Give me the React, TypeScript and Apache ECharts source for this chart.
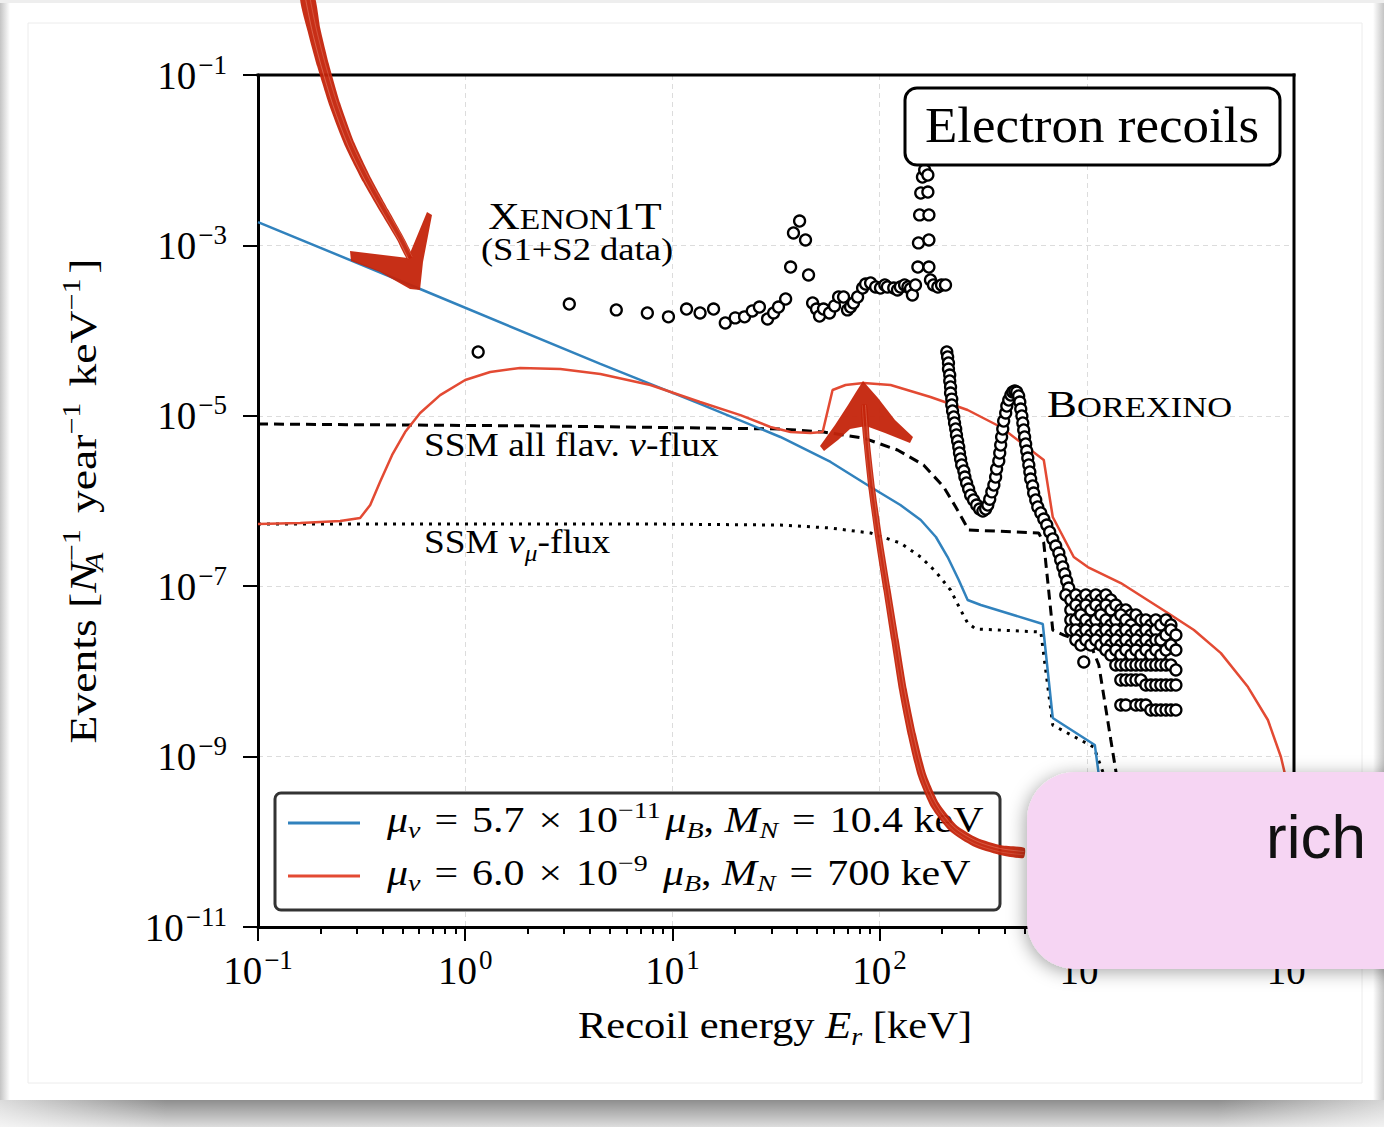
import React, { useEffect, useRef } from "react";
import * as echarts from "echarts";

const SERIF = '"Liberation Serif", "Times New Roman", serif';
const SANS = '"Liberation Sans", "Helvetica Neue", Arial, sans-serif';

// ---------- axis ticks ----------
const xMinorTicks = [
  0.2, 0.3, 0.4, 0.5, 0.6, 0.7, 0.8, 0.9,
  2, 3, 4, 5, 6, 7, 8, 9,
  20, 30, 40, 50, 60, 70, 80, 90,
  200, 300, 400, 500, 600, 700, 800, 900,
  2000, 3000, 4000, 5000, 6000, 7000, 8000, 9000,
];
const yMajorTicks = [1e-11, 1e-9, 1e-7, 1e-5, 1e-3, 1e-1];

// ---------- model curves [E keV, events] ----------
const blueCurve: [number, number][] = [
  [0.1, 1.88e-3], [0.606, 3.08e-4], [4.49, 4.06e-5], [13.6, 1.38e-5], [33.2, 5.64e-6],
  [58.0, 2.87e-6], [90.5, 1.46e-6], [126, 8.97e-7], [158, 5.98e-7], [187, 3.78e-7],
  [213, 2.2e-7], [241, 1.18e-7], [266, 6.89e-8], [308, 6.01e-8], [613, 3.6e-8],
  [685, 2.84e-9], [1093, 1.37e-9], [1169, 4.06e-10], [1277, 1e-11],
];
const redCurve: [number, number][] = [
  [0.1, 5.37e-7], [0.16, 5.52e-7], [0.249, 5.82e-7], [0.311, 6.32e-7], [0.348, 8.97e-7],
  [0.388, 1.67e-6], [0.444, 3.47e-6], [0.513, 6.45e-6], [0.606, 1.08e-5], [0.757, 1.75e-5],
  [1.0, 2.63e-5], [1.32, 3.27e-5], [1.84, 3.64e-5], [2.88, 3.54e-5], [4.49, 3.1e-5],
  [7.83, 2.3e-5], [13.6, 1.45e-5], [21.3, 1.02e-5], [29.7, 7.39e-6], [37.2, 6.45e-6],
  [46.4, 6.28e-6], [53.1, 6.45e-6], [59.3, 2.01e-5], [68.5, 2.3e-5], [83.7, 2.43e-5],
  [113, 2.3e-5], [176, 1.66e-5], [266, 1.17e-5], [384, 7.39e-6], [620, 3.03e-6],
  [685, 6.49e-7], [865, 2.2e-7], [1011, 1.68e-7], [1459, 1.09e-7], [2461, 4.85e-8],
  [3289, 3.06e-8], [4437, 1.64e-8], [5998, 6.55e-9], [7482, 2.69e-9], [8650, 9.9e-10],
  [9675, 3.1e-10], [10000, 1.5e-10],
];
const ssmAllFlavour: [number, number][] = [
  [0.1, 8.01e-6], [0.485, 7.8e-6], [2.57, 7.59e-6], [13.6, 7.19e-6], [33.2, 7.0e-6],
  [53.6, 6.45e-6], [83.7, 5.48e-6], [122, 3.97e-6], [163, 2.65e-6], [204, 1.46e-6],
  [233, 8.51e-7], [269, 4.57e-7], [586, 4.21e-7], [620, 3.21e-7], [685, 3.06e-8],
  [774, 2.67e-8], [1045, 2.04e-8], [1143, 1.19e-8], [1306, 1.57e-9], [1429, 4.06e-10],
  [1542, 6.2e-11], [1650, 1e-11],
];
const ssmMuFlux: [number, number][] = [
  [0.1, 5.37e-7], [0.846, 5.37e-7], [7.83, 5.37e-7], [33.2, 5.22e-7], [58.0, 4.82e-7],
  [90.5, 4.21e-7], [126, 3.21e-7], [158, 2.2e-7], [187, 1.47e-7], [220, 9.02e-8],
  [246, 5.26e-8], [266, 3.7e-8], [291, 3.15e-8], [600, 2.9e-8], [685, 2.34e-9],
  [1081, 1.29e-9], [1236, 5.3e-10], [1380, 1e-11],
];

// ---------- data points ----------
const xenon1T: [number, number][] = [
  [1.155, 5.61e-5], [3.18, 2.05e-4], [5.36, 1.75e-4], [7.57, 1.61e-4], [9.57, 1.45e-4],
  [11.7, 1.79e-4], [13.6, 1.61e-4], [15.8, 1.79e-4], [18.0, 1.23e-4], [20.1, 1.41e-4],
  [22.3, 1.45e-4], [24.3, 1.7e-4], [26.3, 1.89e-4], [28.8, 1.37e-4], [30.8, 1.61e-4],
  [32.5, 1.89e-4], [35.2, 2.35e-4], [37.2, 5.57e-4], [38.4, 1.4e-3], [41.1, 1.93e-3],
  [43.9, 1.16e-3], [45.4, 4.5e-4], [47.5, 2.11e-4], [49.6, 1.79e-4], [51.3, 1.48e-4],
  [53.6, 1.79e-4], [57.3, 1.61e-4], [60.6, 1.95e-4], [63.4, 2.48e-4], [67.0, 2.48e-4],
  [70.0, 1.75e-4], [72.4, 1.89e-4], [74.8, 2.11e-4], [78.3, 2.48e-4], [82.8, 3.16e-4],
  [85.6, 3.52e-4], [90.5, 3.62e-4], [95.7, 3.25e-4], [101, 3.16e-4], [106, 3.43e-4],
  [109, 3.25e-4], [117, 3.16e-4], [122, 3.0e-4], [126, 3.25e-4], [132, 3.43e-4],
  [137, 3.25e-4], [141, 3.1e-4], [144, 2.62e-4], [149, 3.43e-4], [153, 5.57e-4],
  [154, 1.07e-3], [156, 2.28e-3], [158, 4.12e-3], [161, 6.35e-3], [165, 7.67e-3],
  [171, 6.7e-3], [171, 4.23e-3], [173, 2.28e-3], [173, 1.16e-3], [173, 5.57e-4],
  [176, 3.93e-4], [182, 3.43e-4], [191, 3.25e-4], [199, 3.43e-4], [208, 3.43e-4],
];
const borexinoPeak: [number, number][] = [
  [211, 5.61e-5], [213, 4.9e-5], [215, 4.17e-5], [215, 3.54e-5], [218, 3.01e-5],
  [218, 2.56e-5], [220, 2.18e-5], [220, 1.85e-5], [223, 1.57e-5], [223, 1.34e-5],
  [225, 1.14e-5], [228, 9.68e-6], [230, 8.23e-6], [233, 7.0e-6], [235, 5.95e-6],
  [238, 5.06e-6], [241, 4.3e-6], [243, 3.66e-6], [246, 3.11e-6], [249, 2.65e-6],
  [255, 2.25e-6], [258, 1.91e-6], [263, 1.63e-6], [269, 1.38e-6], [275, 1.17e-6],
  [284, 1.03e-6], [294, 8.97e-7], [304, 8.05e-7], [315, 7.63e-7], [325, 8.05e-7],
  [333, 8.97e-7], [340, 1.05e-6], [348, 1.28e-6], [356, 1.54e-6], [363, 1.91e-6],
  [367, 2.38e-6], [376, 2.95e-6], [380, 3.66e-6], [384, 4.54e-6], [388, 5.64e-6],
  [393, 7.0e-6], [397, 8.69e-6], [406, 1.08e-5], [411, 1.3e-5], [420, 1.53e-5],
  [430, 1.75e-5], [439, 1.9e-5], [449, 1.95e-5], [459, 1.9e-5], [469, 1.71e-5],
  [475, 1.45e-5], [480, 1.2e-5], [486, 9.95e-6], [491, 8.23e-6], [496, 6.81e-6],
  [501, 5.64e-6], [507, 4.67e-6], [513, 3.86e-6], [519, 3.19e-6], [525, 2.65e-6],
  [531, 2.19e-6], [536, 1.81e-6], [548, 1.5e-6], [554, 1.24e-6], [567, 1.03e-6],
  [580, 8.51e-7], [600, 7.23e-7], [620, 6.14e-7], [641, 5.22e-7], [662, 4.33e-7],
  [685, 3.58e-7], [708, 2.96e-7], [733, 2.45e-7], [748, 2.03e-7], [766, 1.68e-7],
  [783, 1.39e-7], [800, 1.15e-7], [818, 9.51e-8],
];
const borexinoTail: [number, number][] = [
  [792, 7.88e-8], [837, 6.89e-8], [885, 7.88e-8], [936, 6.89e-8], [989, 7.88e-8],
  [1045, 6.89e-8], [1105, 7.88e-8], [1169, 6.89e-8], [1236, 7.88e-8], [1306, 6.89e-8],
  [837, 5.26e-8], [885, 6.01e-8], [936, 5.26e-8], [989, 6.01e-8], [1045, 5.26e-8],
  [1105, 6.01e-8], [1169, 5.26e-8], [1236, 6.01e-8], [1306, 5.26e-8], [1380, 6.01e-8],
  [1459, 5.26e-8], [1542, 5.26e-8], [1633, 4.59e-8],
  [837, 4.01e-8], [885, 4.01e-8], [936, 4.59e-8], [989, 4.01e-8], [1045, 3.51e-8],
  [1105, 4.01e-8], [1169, 4.59e-8], [1236, 4.01e-8], [1306, 3.51e-8], [1380, 4.01e-8],
  [1459, 4.59e-8], [1542, 4.01e-8], [1633, 3.51e-8], [1726, 4.59e-8], [1824, 4.01e-8],
  [1928, 4.01e-8], [2037, 3.51e-8], [2153, 4.01e-8],
  [837, 3.06e-8], [885, 3.06e-8], [936, 2.67e-8], [989, 3.06e-8], [1045, 2.67e-8],
  [1105, 3.06e-8], [1169, 2.67e-8], [1236, 3.06e-8], [1306, 2.67e-8], [1380, 3.06e-8],
  [1459, 2.67e-8], [1542, 3.06e-8], [1633, 2.67e-8], [1726, 3.06e-8], [1824, 2.67e-8],
  [1928, 3.06e-8], [2037, 2.67e-8], [2153, 3.06e-8], [2276, 3.51e-8], [2410, 4.01e-8],
  [2547, 3.51e-8],
  [885, 2.34e-8], [936, 2.04e-8], [989, 2.34e-8], [1045, 2.04e-8], [1105, 2.34e-8],
  [1169, 2.04e-8], [1236, 2.34e-8], [1306, 2.04e-8], [1380, 2.34e-8], [1459, 2.04e-8],
  [1542, 2.34e-8], [1633, 2.04e-8], [1726, 2.34e-8], [1824, 2.04e-8], [1928, 2.34e-8],
  [2037, 2.04e-8], [2153, 2.34e-8], [2276, 2.34e-8], [2410, 2.67e-8], [2547, 3.06e-8],
  [2692, 2.67e-8],
  [1236, 1.78e-8], [1306, 1.56e-8], [1380, 1.78e-8], [1459, 1.56e-8], [1542, 1.78e-8],
  [1633, 1.56e-8], [1726, 1.78e-8], [1824, 1.56e-8], [1928, 1.78e-8], [2037, 1.56e-8],
  [2153, 1.78e-8], [2276, 1.56e-8], [2410, 1.78e-8], [2547, 2.04e-8], [2692, 1.78e-8],
  [1380, 1.19e-8], [1459, 1.19e-8], [1542, 1.19e-8], [1633, 1.19e-8], [1726, 1.19e-8],
  [1824, 1.19e-8], [1928, 1.19e-8], [2037, 1.19e-8], [2153, 1.19e-8], [2276, 1.19e-8],
  [2410, 1.19e-8], [2547, 1.19e-8], [2692, 1.04e-8],
  [1459, 7.93e-9], [1542, 7.93e-9], [1633, 7.93e-9], [1726, 7.93e-9], [1824, 7.93e-9],
  [1928, 6.92e-9], [2037, 6.92e-9], [2153, 6.92e-9], [2276, 6.92e-9], [2410, 6.92e-9],
  [2547, 6.92e-9], [2692, 6.92e-9],
  [1459, 4.03e-9], [1542, 4.03e-9], [1726, 4.03e-9], [1824, 4.03e-9], [1928, 4.03e-9],
  [2037, 3.52e-9], [2153, 3.52e-9], [2276, 3.52e-9], [2410, 3.52e-9], [2547, 3.52e-9],
  [2692, 3.52e-9],
  [967, 1.29e-8],
];

// ---------- drawing helpers (geometry only) ----------
function taper(pts: number[][], w0: number, w1: number): number[][] {
  const left: number[][] = [];
  const right: number[][] = [];
  const n = pts.length;
  for (let i = 0; i < n; i++) {
    const a = pts[Math.max(0, i - 1)];
    const b = pts[Math.min(n - 1, i + 1)];
    let dx = b[0] - a[0];
    let dy = b[1] - a[1];
    const L = Math.hypot(dx, dy) || 1;
    dx /= L; dy /= L;
    const w = w0 + ((w1 - w0) * i) / (n - 1);
    left.push([pts[i][0] - dy * w, pts[i][1] + dx * w]);
    right.push([pts[i][0] + dy * w, pts[i][1] - dx * w]);
  }
  return left.concat(right.reverse());
}
function offsetLine(pts: number[][], off: number): number[][] {
  const n = pts.length;
  return pts.map((p, i) => {
    const a = pts[Math.max(0, i - 1)];
    const b = pts[Math.min(n - 1, i + 1)];
    let dx = b[0] - a[0];
    let dy = b[1] - a[1];
    const L = Math.hypot(dx, dy) || 1;
    dx /= L; dy /= L;
    return [p[0] - dy * off, p[1] + dx * off];
  });
}

const rs = (size: number, extra: any = {}) => ({ fontFamily: SERIF, fontSize: size, fill: "#000", ...extra });

function mathRich(base: number, small: number, lh: number, eqPad: number) {
  return {
    r: rs(base, { lineHeight: lh }),
    i: rs(base, { lineHeight: lh, fontStyle: "italic" }),
    eq: rs(base, { lineHeight: lh, padding: [0, eqPad, 0, eqPad] }),
    sb: rs(small, { lineHeight: small, verticalAlign: "bottom", fontStyle: "italic" }),
    sbz: rs(small, { lineHeight: small, verticalAlign: "bottom", fontStyle: "italic", width: 1 }),
    sp: rs(small, { lineHeight: small, verticalAlign: "top", padding: [0, 4, 0, 0] }),
  };
}

function txt(x: number, y: number, text: string, rich: any, opts: any = {}) {
  return {
    type: "text",
    x,
    y,
    z: opts.z ?? 12,
    scaleX: opts.scaleX ?? 1,
    rotation: opts.rotation ?? 0,
    silent: true,
    style: {
      text,
      rich,
      fill: "#000",
      align: opts.align ?? "left",
      textAlign: opts.align ?? "left",
      verticalAlign: "middle",
      textVerticalAlign: "middle",
    },
  };
}

function supLabel(v: number) {
  const e = Math.round(Math.log10(v));
  return `{b|10}{s|${e < 0 ? "\u2212" : ""}${Math.abs(e)}}`;
}

const tickRich = {
  b: { fontFamily: SERIF, fontSize: 39, lineHeight: 48, color: "#000" },
  s: { fontFamily: SERIF, fontSize: 27, lineHeight: 22, verticalAlign: "top", color: "#000", padding: [0, 0, 0, 2] },
};

const smallCaps = {
  a: rs(39, { lineHeight: 46 }),
  b: rs(30, { lineHeight: 46, padding: [6, 0, 0, 0] }),
};

function buildOption() {
  const RED_INK = "#c4240b";
  const a1 = [[307, -4], [314, 30], [323, 65], [335, 105], [350, 145], [367, 180], [385, 212], [400, 238], [410, 258]];
  const a2 = [[1024, 853], [1000, 850], [975, 842], [953, 828], [935, 805], [922, 775], [912, 735], [903, 690], [895, 640], [887, 590], [879, 540], [872, 490], [867, 445], [864, 405]];
  const arrow1Shaft = taper(a1, 7, 3);
  const arrow1Head = [[350, 251], [408, 258], [427, 212], [432, 215], [423, 262], [420, 290], [410, 289], [380, 272], [351, 261]];
  const arrow2Shaft = taper(a2, 5, 3);
  const arrow2Head = [[863, 381], [878, 398], [895, 420], [913, 437], [910, 443], [885, 433], [866, 426], [850, 429], [838, 440], [824, 451], [820, 446], [835, 425], [848, 405], [856, 392]];
  const streak = (pts: number[][], off: number, op: number) => ({
    type: "polyline", z: 21, silent: true, shape: { points: offsetLine(pts, off), smooth: 0.3 },
    style: { stroke: `rgba(255,190,170,${op})`, lineWidth: 1, fill: "none" },
  });

  const legendRich = mathRich(36, 24, 44, 12);
  const annRich = mathRich(34, 23, 44, 8);
  const nameRich = mathRich(38, 25, 48, 8);

  const graphic: any[] = [
    // page / card frame
    { type: "rect", z: -30, silent: true, shape: { x: 0, y: 0, width: 1384, height: 1127 }, style: { fill: "#fff" } },
    {
      type: "rect", z: -29, silent: true, shape: { x: 0, y: 0, width: 10, height: 1105 },
      style: { fill: new echarts.graphic.LinearGradient(0, 0, 1, 0, [{ offset: 0, color: "#c4c4c4" }, { offset: 1, color: "#ffffff" }]) },
    },
    {
      type: "rect", z: -29, silent: true, shape: { x: 1373, y: 0, width: 11, height: 1105 },
      style: { fill: new echarts.graphic.LinearGradient(0, 0, 1, 0, [{ offset: 0, color: "#ffffff" }, { offset: 1, color: "#c4c4c4" }]) },
    },
    { type: "rect", z: -29, silent: true, shape: { x: 0, y: 0, width: 1384, height: 3 }, style: { fill: "#eeeeee" } },
    {
      type: "rect", z: -29, silent: true, shape: { x: 0, y: 1100, width: 1384, height: 27 },
      style: {
        fill: new echarts.graphic.LinearGradient(0, 0, 1, 0, [
          { offset: 0, color: "#dcdcdc" }, { offset: 0.12, color: "#8e8e8e" },
          { offset: 0.88, color: "#8e8e8e" }, { offset: 1, color: "#d4d4d4" },
        ]),
      },
    },
    {
      type: "rect", z: -28, silent: true, shape: { x: 0, y: 1100, width: 1384, height: 27 },
      style: {
        fill: new echarts.graphic.LinearGradient(0, 0, 0, 1, [
          { offset: 0, color: "rgba(255,255,255,0)" }, { offset: 1, color: "rgba(255,255,255,0.7)" },
        ]),
      },
    },
    {
      type: "rect", z: -27, silent: true, shape: { x: 28, y: 23, width: 1334, height: 1060 },
      style: { fill: "none", stroke: "#ececec", lineWidth: 1 },
    },

    // top and right frame of the axes box
    { type: "line", z: 15, silent: true, shape: { x1: 256.5, y1: 75, x2: 1295.5, y2: 75 }, style: { stroke: "#000", lineWidth: 3 } },
    { type: "line", z: 15, silent: true, shape: { x1: 1294, y1: 73.5, x2: 1294, y2: 928.5 }, style: { stroke: "#000", lineWidth: 3 } },

    // "Electron recoils" box
    {
      type: "rect", z: 12, silent: true, shape: { x: 905, y: 88, width: 375, height: 77, r: 12 },
      style: { fill: "#fff", stroke: "#000", lineWidth: 3 },
    },
    txt(1092, 125, "{r|Electron recoils}", { r: rs(50, { lineHeight: 56 }) }, { align: "center", scaleX: 1.06 }),

    // annotations
    txt(575, 216, "{a|X}{b|ENON}{a|1T}", smallCaps, { align: "center", scaleX: 1.12 }),
    txt(577, 249, "{r|(S1+S2 data)}", { r: rs(31, { lineHeight: 36 }) }, { align: "center", scaleX: 1.18 }),
    txt(1047, 404, "{a|B}{b|OREXINO}", smallCaps, { scaleX: 1.15 }),
    txt(424, 445, "{r|SSM all flav. }{i|ν}{r|-flux}", annRich, { scaleX: 1.1 }),
    txt(424, 542, "{r|SSM }{i|ν}{sb|μ}{r|-flux}", annRich, { scaleX: 1.1 }),

    // axis titles
    txt(775, 1025, "{r|Recoil energy }{i|E}{sb|r}{r| [keV]}", nameRich, { align: "center", scaleX: 1.12 }),
    txt(83, 501, "{r|Events [}{i|N}{sbz|A}{sp|\u22121}{r| year}{sp|\u22121}{r| keV}{sp|\u22121}{r|]}", nameRich, { align: "center", rotation: Math.PI / 2, scaleX: 1.2 }),

    // legend
    {
      type: "rect", z: 11, silent: true, shape: { x: 275, y: 793, width: 725, height: 117, r: 6 },
      style: { fill: "#fff", stroke: "#333", lineWidth: 3 },
    },
    { type: "line", z: 12, silent: true, shape: { x1: 288, y1: 823, x2: 360, y2: 823 }, style: { stroke: "#3182bd", lineWidth: 3 } },
    { type: "line", z: 12, silent: true, shape: { x1: 288, y1: 876, x2: 360, y2: 876 }, style: { stroke: "#e34a33", lineWidth: 3 } },
    txt(387, 820, "{i|μ}{sb|ν}{eq|=}{r|5.7}{eq|×}{r|10}{sp|\u221211}{i|μ}{sb|B}{r|, }{i|M}{sb|N}{eq|=}{r|10.4 keV}", legendRich, { scaleX: 1.165 }),
    txt(387, 873, "{i|μ}{sb|ν}{eq|=}{r|6.0}{eq|×}{r|10}{sp|\u22129}{r| }{i|μ}{sb|B}{r|, }{i|M}{sb|N}{eq|=}{r|700 keV}", legendRich, { scaleX: 1.165 }),

    // hand-drawn red arrows
    { type: "polygon", z: 20, silent: true, shape: { points: arrow1Shaft, smooth: 0.2 }, style: { fill: RED_INK, opacity: 0.95 } },
    { type: "polygon", z: 20, silent: true, shape: { points: arrow1Head }, style: { fill: RED_INK, opacity: 0.95 } },
    streak(a1, 2, 0.35), streak(a1, -2.5, 0.25),
    { type: "polygon", z: 20, silent: true, shape: { points: arrow2Shaft, smooth: 0.2 }, style: { fill: RED_INK, opacity: 0.95 } },
    { type: "polygon", z: 20, silent: true, shape: { points: arrow2Head }, style: { fill: RED_INK, opacity: 0.95 } },
    streak(a2, 1.5, 0.3), streak(a2, -1.8, 0.2),

    // pink overlay tag
    {
      type: "rect", z: 40, silent: true, shape: { x: 1027, y: 772, width: 420, height: 197, r: 48 },
      style: { fill: "#f6d5f3", shadowBlur: 18, shadowColor: "rgba(0,0,0,0.35)", shadowOffsetX: -2, shadowOffsetY: 3 },
    },
    {
      type: "text", z: 41, silent: true, x: 1366, y: 836,
      style: { text: "rich", font: `62px ${SANS}`, fill: "#111", align: "right", textAlign: "right", verticalAlign: "middle", textVerticalAlign: "middle" },
    },
  ];

  const lineBase = { type: "line", showSymbol: false, symbol: "none", silent: true, xAxisIndex: 0, yAxisIndex: 0 };
  const circle = {
    type: "scatter", symbol: "circle", symbolSize: 11, silent: true, z: 5,
    itemStyle: { color: "#fff", borderColor: "#000", borderWidth: 2.3, opacity: 1 },
  };

  return {
    animation: false,
    backgroundColor: "transparent",
    grid: { left: 258, top: 75, right: 90, bottom: 200, show: false },
    xAxis: [
      {
        type: "log", logBase: 10, min: 0.1, max: 10000, position: "bottom",
        axisLine: { show: true, lineStyle: { color: "#000", width: 3 } },
        axisTick: { show: true, length: 14, lineStyle: { color: "#000", width: 2 } },
        axisLabel: { show: true, margin: 19, formatter: supLabel, rich: tickRich },
        splitLine: { show: true, lineStyle: { color: "#dcdcdc", width: 1, type: [5, 4] } },
      },
      {
        type: "log", logBase: 10, min: 0.1, max: 10000, position: "bottom",
        axisLine: { show: false },
        axisTick: { show: true, length: 7, customValues: xMinorTicks, lineStyle: { color: "#000", width: 2 } },
        axisLabel: { show: false },
        splitLine: { show: false },
      },
    ],
    yAxis: {
      type: "log", logBase: 10, min: 1e-11, max: 0.1, position: "left",
      axisLine: { show: true, lineStyle: { color: "#000", width: 3 } },
      axisTick: { show: true, length: 15, customValues: yMajorTicks, lineStyle: { color: "#000", width: 2 } },
      axisLabel: { show: true, margin: 31, customValues: yMajorTicks, formatter: supLabel, rich: tickRich },
      splitLine: { show: true, lineStyle: { color: "#dcdcdc", width: 1, type: [5, 4] } },
    },
    series: [
      { ...lineBase, name: "SSM nu_mu-flux", data: ssmMuFlux, z: 2, lineStyle: { color: "#000", width: 3, type: [3, 6] } },
      { ...lineBase, name: "SSM all flav.", data: ssmAllFlavour, z: 2, lineStyle: { color: "#000", width: 3, type: [10, 6] } },
      { ...lineBase, name: "mu=5.7e-11, MN=10.4 keV", data: blueCurve, z: 3, lineStyle: { color: "#3182bd", width: 2.5 } },
      { ...lineBase, name: "mu=6.0e-9, MN=700 keV", data: redCurve, z: 3, lineStyle: { color: "#e34a33", width: 2.5 } },
      { ...circle, name: "XENON1T", data: xenon1T },
      { ...circle, name: "Borexino peak", data: borexinoPeak },
      { ...circle, name: "Borexino tail", data: borexinoTail },
    ],
    graphic: { elements: graphic },
  };
}

export default function App() {
  const ref = useRef<HTMLDivElement>(null);
  useEffect(() => {
    if (!ref.current) return;
    const chart = echarts.init(ref.current, undefined, { renderer: "svg" });
    chart.setOption(buildOption() as any);
    return () => chart.dispose();
  }, []);
  return (
    <div
      ref={ref}
      style={{ position: "fixed", left: 0, top: 0, width: 1384, height: 1127, background: "#fff" }}
    />
  );
}
